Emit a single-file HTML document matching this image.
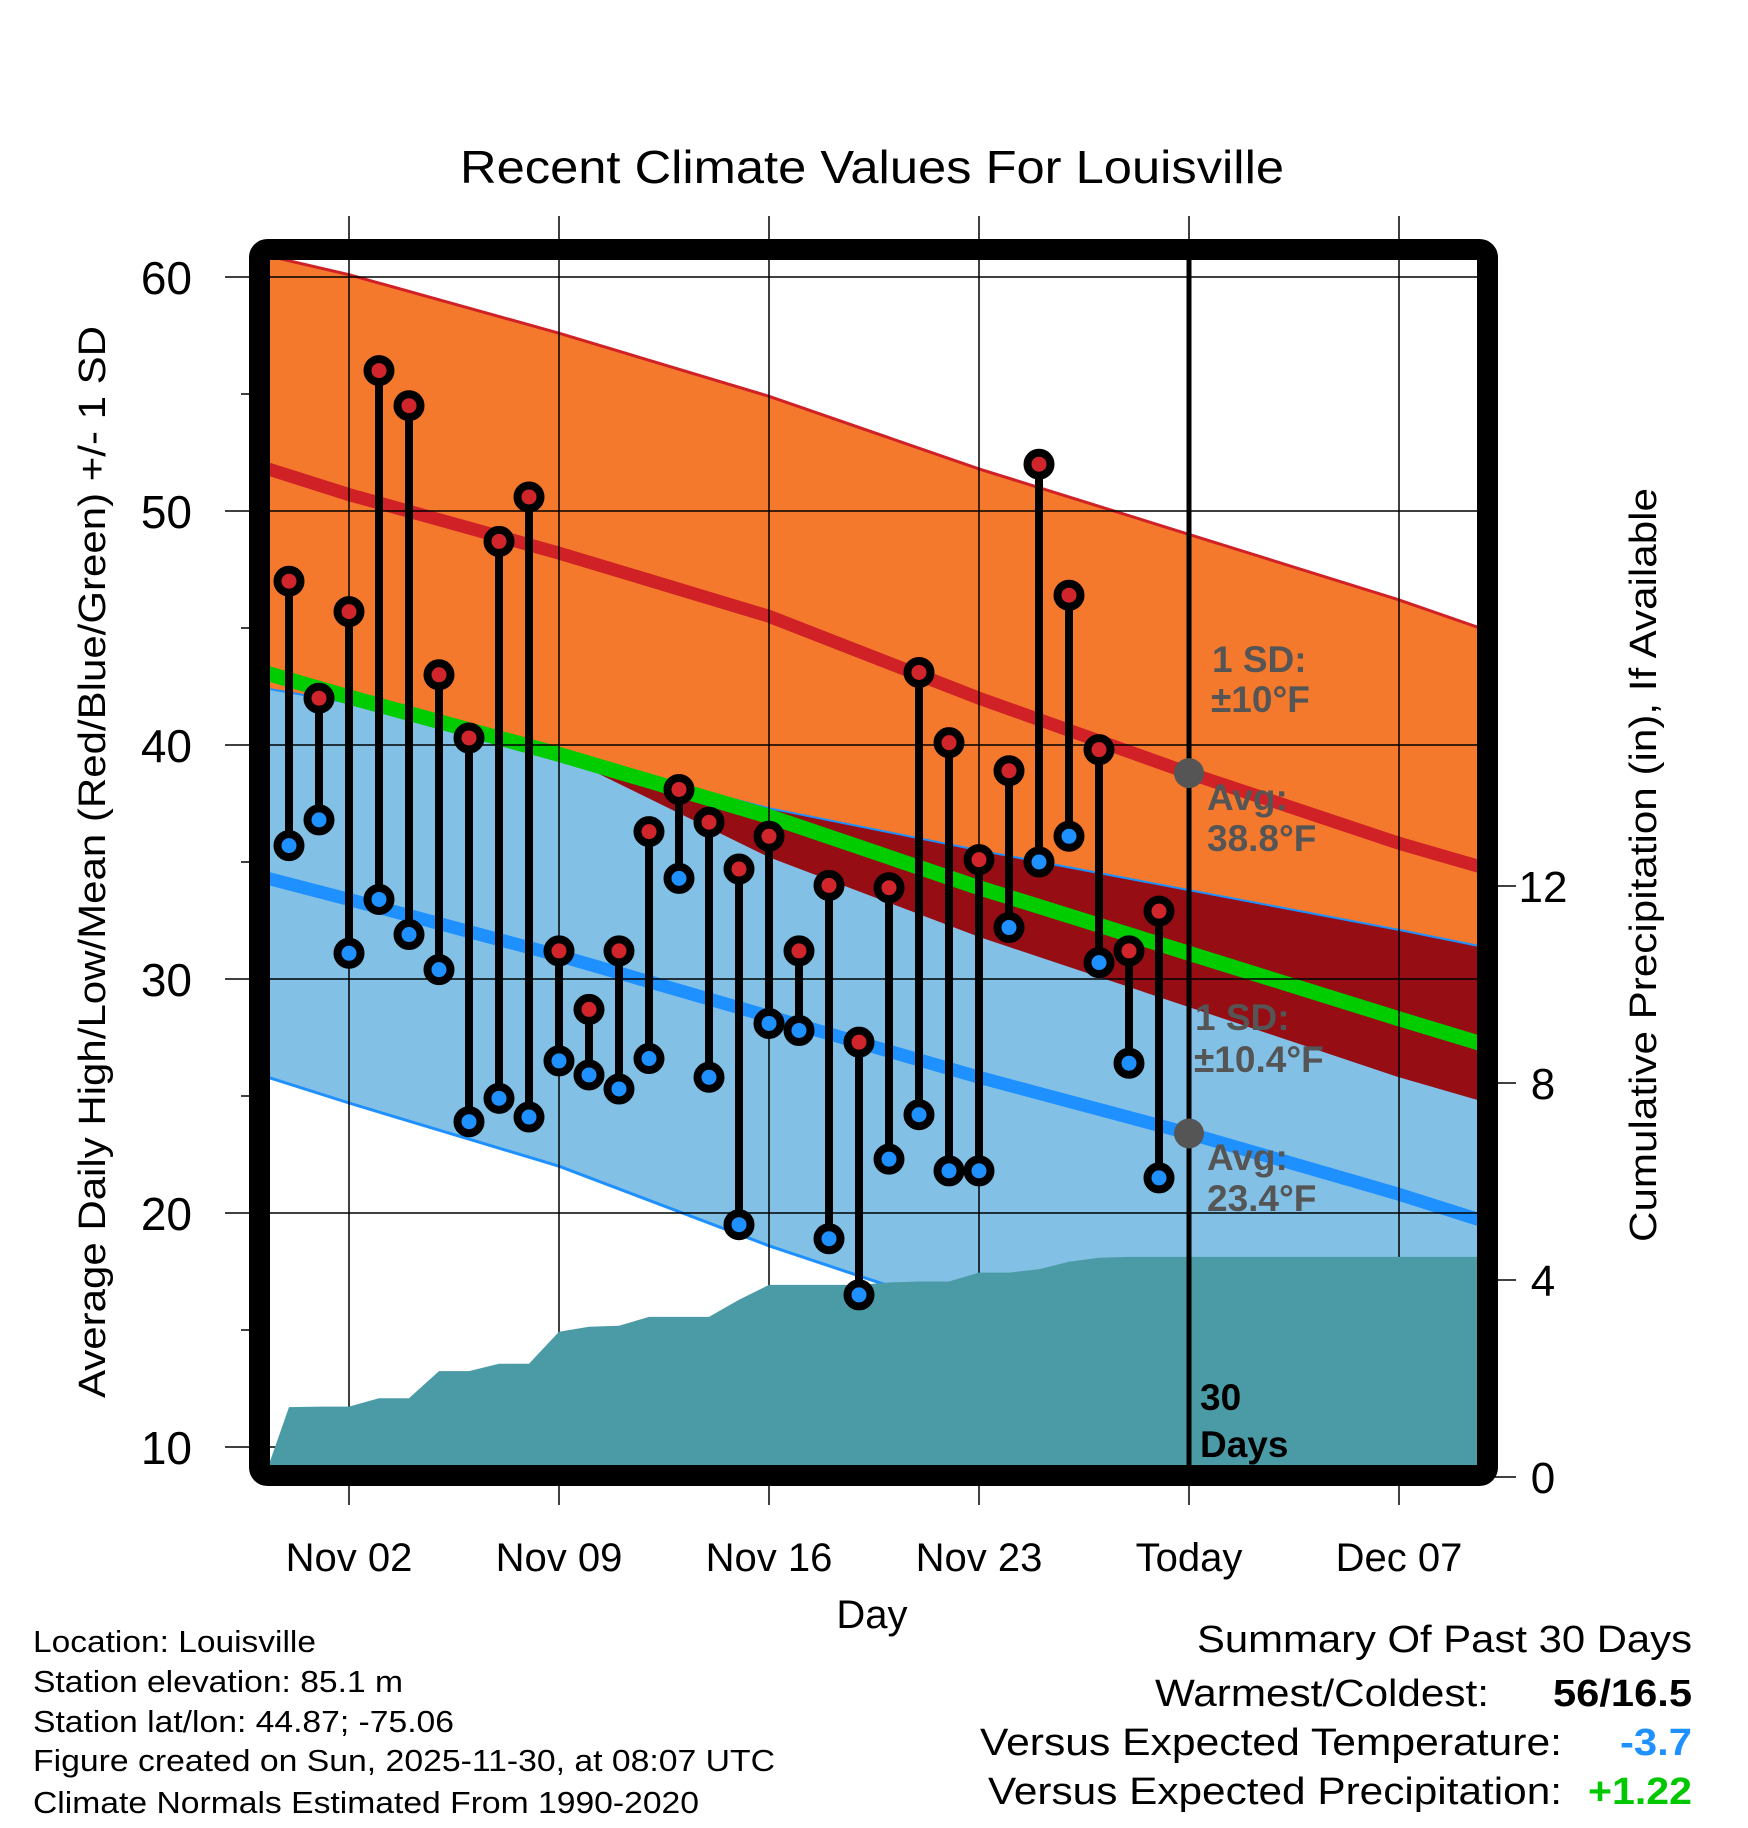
<!DOCTYPE html>
<html><head><meta charset="utf-8"><style>
html,body{margin:0;padding:0;background:#fff;}
svg{display:block;font-family:"Liberation Sans",Arial,sans-serif;}
</style></head><body>
<svg id="chart" width="1748" height="1828" viewBox="0 0 1748 1828" xmlns="http://www.w3.org/2000/svg">
<defs><clipPath id="plotclip"><rect x="270" y="260" width="1208" height="1208"/></clipPath></defs>
<text x="872" y="183" font-size="46" text-anchor="middle" textLength="824" lengthAdjust="spacingAndGlyphs">Recent Climate Values For Louisville</text>
<g id="plot" clip-path="url(#plotclip)"></g>
<g id="overlay"></g>
<rect x="259.5" y="249.5" width="1228" height="1226" rx="8" fill="none" stroke="#000" stroke-width="21"/>
<g id="axes"></g>
<text transform="translate(105,862) rotate(-90)" font-size="38" text-anchor="middle" textLength="1072" lengthAdjust="spacingAndGlyphs">Average Daily High/Low/Mean (Red/Blue/Green) +/- 1 SD</text>
<text transform="translate(1656,865) rotate(-90)" font-size="38" text-anchor="middle" textLength="754" lengthAdjust="spacingAndGlyphs">Cumulative Precipitation (in), If Available</text>
<text x="872" y="1628" font-size="40" text-anchor="middle">Day</text>
<g font-size="31">
<text x="33" y="1652" textLength="283" lengthAdjust="spacingAndGlyphs">Location: Louisville</text>
<text x="33" y="1692" textLength="370" lengthAdjust="spacingAndGlyphs">Station elevation: 85.1 m</text>
<text x="33" y="1732" textLength="421" lengthAdjust="spacingAndGlyphs">Station lat/lon: 44.87; -75.06</text>
<text x="33" y="1771" textLength="742" lengthAdjust="spacingAndGlyphs">Figure created on Sun, 2025-11-30, at 08:07 UTC</text>
<text x="33" y="1813" textLength="666" lengthAdjust="spacingAndGlyphs">Climate Normals Estimated From 1990-2020</text>
</g>
<g font-size="38">
<text x="1197" y="1652" textLength="495" lengthAdjust="spacingAndGlyphs">Summary Of Past 30 Days</text>
<text x="1155" y="1706" textLength="334" lengthAdjust="spacingAndGlyphs">Warmest/Coldest:</text>
<text x="1692" y="1706" text-anchor="end" font-weight="bold" textLength="139" lengthAdjust="spacingAndGlyphs">56/16.5</text>
<text x="980" y="1755" textLength="582" lengthAdjust="spacingAndGlyphs">Versus Expected Temperature:</text>
<text x="1692" y="1755" text-anchor="end" font-weight="bold" fill="#1e90ff" textLength="72" lengthAdjust="spacingAndGlyphs">-3.7</text>
<text x="988" y="1804" textLength="574" lengthAdjust="spacingAndGlyphs">Versus Expected Precipitation:</text>
<text x="1692" y="1804" text-anchor="end" font-weight="bold" fill="#00c800" textLength="104" lengthAdjust="spacingAndGlyphs">+1.22</text>
</g>
</svg>
<script>
// ---- data ----
const dayLabels = ["Nov 02","Nov 09","Nov 16","Nov 23","Today","Dec 07"];
const dayTicks = [0,7,14,21,28,35];
const tempTicks = [60,50,40,30,20,10];
const precipTicks = [0,4,8,12];
const highs = [47.0,42.0,45.7,56.0,54.5,43.0,40.3,48.7,50.6,31.2,28.7,31.2,36.3,38.1,36.7,34.7,36.1,31.2,34.0,27.3,33.9,43.1,40.1,35.1,38.9,52.0,46.4,39.8,31.2,32.9];
const lows  = [35.7,36.8,31.1,33.4,31.9,30.4,23.9,24.9,24.1,26.5,25.9,25.3,26.6,34.3,25.8,19.5,28.1,27.8,18.9,16.5,22.3,24.2,21.8,21.8,32.2,35.0,36.1,30.7,26.4,21.5];
const precip = [1.42,1.43,1.43,1.6,1.6,2.15,2.15,2.3,2.3,2.95,3.05,3.07,3.25,3.25,3.25,3.6,3.9,3.9,3.9,3.9,3.95,3.97,3.97,4.15,4.15,4.22,4.37,4.45,4.47,4.47];
const normDays = [-2.7,0,7,14,21,28,35,37.7];
const normHigh = [51.8,50.7,48.2,45.5,42.0,38.8,35.8,34.8];
const normHighUpper = [60.9,60.1,57.6,54.9,51.8,49.0,46.2,45.0];
const normHighLower = [42.4,41.8,39.6,35.2,31.8,28.8,25.8,24.8];
const normLow = [34.3,33.4,31.0,28.4,25.8,23.4,20.8,19.7];
const normLowUpper = [42.4,41.8,39.6,37.3,35.5,33.8,32.1,31.4];
const normLowLower = [25.8,24.7,22.0,18.6,15.6,13.0,10.5,9.5];
const todayHigh = 38.8, todayLow = 23.4, todayDay = 28;
const firstDay = -2; // Oct 31 relative to Nov 02

// ---- scales ----
const X = d => 349 + 30*d;
const Y = t => 277 + (60 - t)*23.4;
const P = p => 1477 - p*49.25;
const NS = "http://www.w3.org/2000/svg";
function mk(tag, attrs, parent){const e=document.createElementNS(NS,tag);for(const k in attrs)e.setAttribute(k,attrs[k]);parent.appendChild(e);return e;}
const plot = document.getElementById('plot');
const overlay = document.getElementById('overlay');
const axes = document.getElementById('axes');
const pts = arr => normDays.map((d,i)=>X(d).toFixed(1)+","+Y(arr[i]).toFixed(1));
function band(up, lo, fill, name){
  const p = pts(up).concat(pts(lo).reverse()).join(" ");
  const e = mk('polygon',{points:p,fill:fill},plot);
  
  
}
function line(arr, color, w, name){
  const e = mk('polyline',{points:pts(arr).join(" "),fill:"none",stroke:color,"stroke-width":w},plot);
  
  
}
band(normHighUpper, normHighLower, "#f4792d", "high-sd-band");
band(normLowUpper, normLowLower, "#82c0e6", "low-sd-band");
const ovUp = normLowUpper.map((v,i)=>Math.max(v, normHighLower[i]));
band(ovUp, normHighLower, "#960d14", "overlap-band");
line(normHighUpper, "#d02126", 3, "high-upper-sd-line");
line(normLowUpper, "#1e90ff", 2, "low-upper-sd-line");
line(normLowLower, "#1e90ff", 3, "low-lower-sd-line");
line(normHigh, "#d02126", 13, "avg-high-line");
line(normLow, "#1e90ff", 13, "avg-low-line");
const mean = normHigh.map((v,i)=>(v+normLow[i])/2);
line(mean, "#00cc00", 15, "avg-mean-line");

// gridlines
dayTicks.forEach((d,i)=>{
  const g = mk('line',{x1:X(d),x2:X(d),y1:216,y2:1505,stroke:"#000","stroke-width":1.5},overlay);
  
  
  const t = mk('text',{x:X(d),y:1571,"font-size":40,"text-anchor":"middle"},axes);
  t.textContent = dayLabels[i];
  
  
});
tempTicks.forEach(v=>{
  const g = mk('line',{x1:225,x2:1478,y1:Y(v),y2:Y(v),stroke:"#000","stroke-width":1.5},overlay);
  
  
  const t = mk('text',{x:192,y:Y(v)+17,"font-size":46,"text-anchor":"end"},axes);
  t.textContent = v;
  
  
});
[55,45,35,25,15].forEach(v=>{
  const m = mk('line',{x1:241,x2:250,y1:Y(v),y2:Y(v),stroke:"#000","stroke-width":1.5},axes);
  
  
});
precipTicks.forEach(v=>{
  const m = mk('line',{x1:1495,x2:1516,y1:P(v),y2:P(v),stroke:"#000","stroke-width":1.5},axes);
  
  
  const t = mk('text',{x:1543,y:P(v)+16,"font-size":44,"text-anchor":"middle"},axes);
  t.textContent = v;
  
  
});

// precipitation area
const pg = mk('g',{"clip-path":"url(#plotclip)"},overlay);
let pp = [X(-2.7)+","+P(0), X(-2.7)+","+P(0.2)];
precip.forEach((v,i)=>pp.push(X(firstDay+i)+","+P(v).toFixed(1)));
pp.push(X(37.7)+","+P(precip[precip.length-1]).toFixed(1));
pp.push(X(37.7)+","+P(0));
const pa = mk('polygon',{points:pp.join(" "),fill:"#4a9ba5"},pg);



// daily high/low stems
highs.forEach((h,i)=>{
  const x = X(firstDay+i);
  const s = mk('line',{x1:x,x2:x,y1:Y(h),y2:Y(lows[i]),stroke:"#000","stroke-width":8},overlay);
  
  
});
highs.forEach((h,i)=>{
  const x = X(firstDay+i);
  const a = mk('circle',{cx:x,cy:Y(h),r:11.5,fill:"#d0252a",stroke:"#000","stroke-width":8},overlay);
  
  
  const b = mk('circle',{cx:x,cy:Y(lows[i]),r:11.5,fill:"#1e90ff",stroke:"#000","stroke-width":8},overlay);
  
  
});

// today line & markers
const tl = mk('line',{x1:X(todayDay),x2:X(todayDay),y1:260,y2:1475,stroke:"#000","stroke-width":5},overlay);


const d1 = mk('circle',{cx:X(todayDay),cy:Y(todayHigh),r:15,fill:"#555"},overlay);


const d2 = mk('circle',{cx:X(todayDay),cy:Y(todayLow),r:15,fill:"#555"},overlay);



// annotations
const ann = [
  ["1 SD:",1212,672,"#555","high-sd-label"],
  ["±10°F",1211,712,"#555","high-sd-value"],
  ["Avg:",1207,810,"#555","avg-high-label"],
  ["38.8°F",1207,851,"#555","avg-high-value"],
  ["1 SD:",1195,1030,"#555","low-sd-label"],
  ["±10.4°F",1194,1072,"#555","low-sd-value"],
  ["Avg:",1207,1170,"#555","avg-low-label"],
  ["23.4°F",1207,1211,"#555","avg-low-value"],
  ["30",1200,1410,"#000","days-count-label"],
  ["Days",1200,1457,"#000","days-word-label"]
];
ann.forEach(a=>{
  const t = mk('text',{x:a[1],y:a[2],"font-size":37,"font-weight":"bold",fill:a[3]},overlay);
  t.textContent = a[0];
  
  
});
</script>
</body></html>
